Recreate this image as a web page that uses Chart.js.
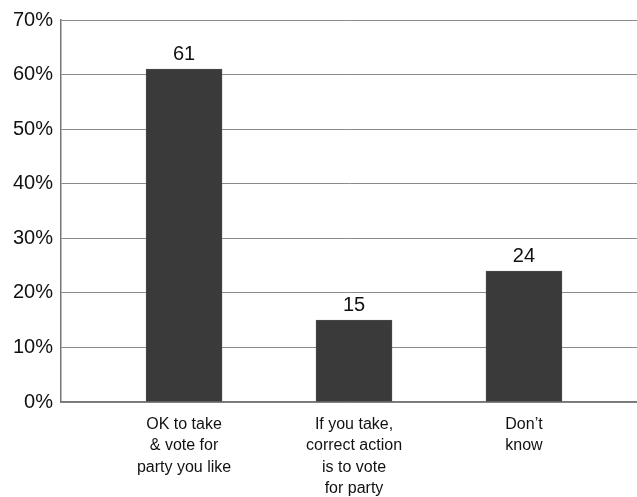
<!DOCTYPE html>
<html>
<head>
<meta charset="utf-8">
<script src="https://cdn.jsdelivr.net/npm/chart.js@4/dist/chart.umd.min.js"></script>
<style>
  body { margin: 0; background: #fff; }
  #wrap { width: 637px; height: 497px; }
</style>
</head>
<body>
<div id="wrap"><canvas id="chart" width="637" height="497"></canvas></div>
<script>
// Données
const categories = [
    ['OK to take', '& vote for', 'party you like'],
    ['If you take,', 'correct action', 'is to vote', 'for party'],
    ['Don\u2019t', 'know']
];
const values = [61, 15, 24];
const yTicks = [0, 10, 20, 30, 40, 50, 60, 70];

const font = 'Liberation Sans, Arial, sans-serif';

// Étiquettes de valeur au-dessus des barres
const valueLabels = {
    id: 'valueLabels',
    afterDatasetsDraw(chart) {
        const c = chart.ctx;
        const meta = chart.getDatasetMeta(0);
        c.save();
        c.fillStyle = '#111';
        c.font = '20px ' + font;
        c.textAlign = 'center';
        c.textBaseline = 'bottom';
        meta.data.forEach((bar, i) => {
            c.fillText(String(values[i]), bar.x, bar.y - 5);
        });
        c.restore();
    }
};

const chart = new Chart(document.getElementById('chart'), {
    type: 'bar',
    data: {
        datasets: [{
            data: values.map((v, i) => ({ x: i + 1, y: v })),
            backgroundColor: '#3a3a3a',
            borderColor: '#4a4a4a',
            borderWidth: 1,
            barThickness: 76
        }]
    },
    options: {
        responsive: false,
        animation: false,
        layout: { padding: { top: 19, right: 0, left: 0, bottom: 0 } },
        plugins: {
            legend: { display: false },
            tooltip: { enabled: false }
        },
        scales: {
            x: {
                type: 'linear',
                offset: false,
                bounds: 'ticks',
                min: 0.276,
                max: 3.665,
                grid: { display: false, drawTicks: false, offset: false },
                border: { display: true, color: '#777', width: 1.5 },
                afterBuildTicks: scale => {
                    scale.ticks = categories.map((_, i) => ({ value: i + 1 }));
                },
                afterFit: scale => { scale.height = 95; },
                ticks: {
                    autoSkip: false,
                    maxRotation: 0,
                    padding: 12,
                    color: '#111',
                    font: { family: font, size: 16, lineHeight: 1.33 },
                    callback: v => categories[v - 1] || ''
                }
            },
            y: {
                min: 0,
                max: 70,
                grid: { color: '#8a8a8a', lineWidth: 1, drawTicks: false },
                border: { display: true, color: '#777', width: 1.5 },
                afterBuildTicks: scale => {
                    scale.ticks = yTicks.map(v => ({ value: v }));
                },
                afterFit: scale => { scale.width = 61; },
                ticks: {
                    padding: 8,
                    color: '#111',
                    font: { family: font, size: 20 },
                    callback: v => v + '%'
                }
            }
        }
    },
    plugins: [valueLabels]
});
</script>
</body>
</html>
